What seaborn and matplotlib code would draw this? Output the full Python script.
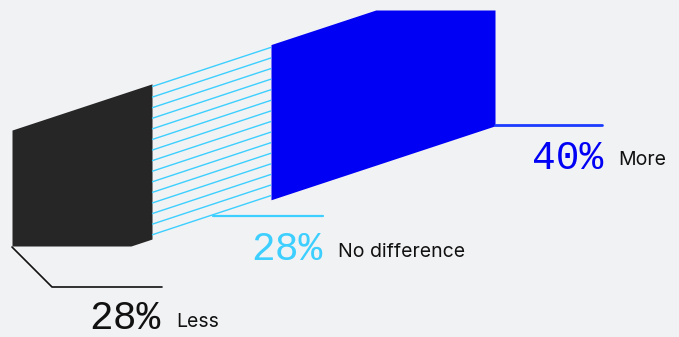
import numpy as np
import matplotlib
matplotlib.use("Agg")
import matplotlib.pyplot as plt
import seaborn as sns

# ---- data ----
categories = ["Less", "No difference", "More"]
values = [28, 28, 40]
colors = ["#262626", "#3ccfff", "#0000f5"]
value_colors = ["#111111", "#3ccfff", "#0000f5"]

# ---- layout (pixel-like axis units) ----
W, H = 679, 337
seg_edges = [12, 152, 271, 495]          # x boundaries of the three blocks
slope = 0.33                             # skew of the band
top0, bot0 = 134.0, 289.2                # band edge intercepts
clip_top, clip_bot = 10.0, 246.0
BG = "#f1f2f4"

sns.set_theme(style="white", rc={"figure.facecolor": BG, "axes.facecolor": BG})

fig = plt.figure(figsize=(W / 100, H / 100), dpi=100)
ax = fig.add_axes([0, 0, 1, 1])
ax.set_xlim(0, W)
ax.set_ylim(H, 0)
ax.axis("off")


def y_top(x):
    return np.maximum(clip_top, top0 - slope * x)


def y_bot(x):
    return np.minimum(clip_bot, bot0 - slope * x)


# solid blocks: Less and More
for i in (0, 2):
    x = np.linspace(seg_edges[i], seg_edges[i + 1], 2000)
    ax.fill_between(x, y_top(x), y_bot(x), color=colors[i], lw=0)

# hatched block: No difference
x0, x1 = seg_edges[1], seg_edges[2]
xs = np.array([x0, x1])
for d in np.linspace(2.8, 151.0, 15):
    ax.plot(xs, y_top(xs) + d, color=colors[1], lw=1.0, solid_capstyle="butt")

# leader lines
ax.plot([12, 52, 162], [247, 287, 287], color="#111111", lw=1.2)
ax.plot([213, 323], [215.5, 215.5], color=colors[1], lw=1.6)
ax.plot([495, 602], [125, 125], color="#1a3cff", lw=2.0)

# labels
pct_pos = [(161, 318), (323, 249), (603, 158)]
lab_pos = [(176, 322), (338, 252), (618, 160)]
mono = ["Liberation Mono", "DejaVu Sans Mono"]
for cat, v, c, (px, py), (lx, ly) in zip(categories, values, value_colors, pct_pos, lab_pos):
    ax.text(px, py, f"{v}%", color=c, fontsize=28.5, family=mono,
            ha="right", va="center")
    ax.text(lx, ly, cat, color="#111111", fontsize=14, family=["Inter", "DejaVu Sans"],
            ha="left", va="center")

fig.savefig("out.png", dpi=100, facecolor=BG)
